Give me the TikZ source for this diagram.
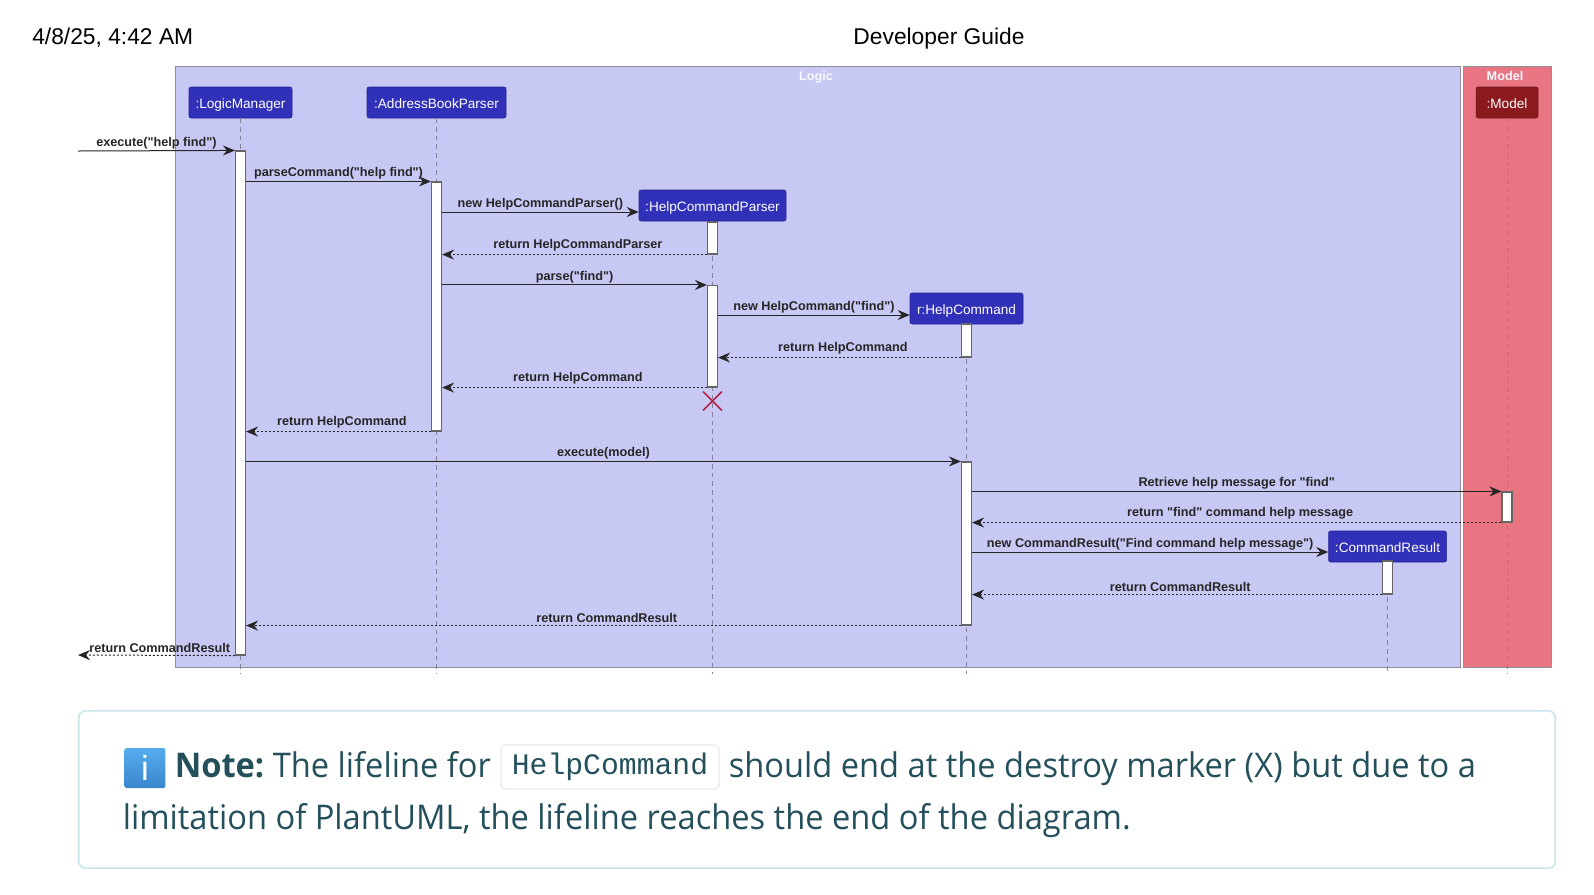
\documentclass[tikz,border=0pt]{standalone}
\usepackage{fontspec}
\setmainfont{Liberation Sans}
\newfontfamily\notefont[FakeStretch=0.96]{Open Sans}
\newfontfamily\codefont{Liberation Mono}
\usetikzlibrary{arrows.meta,positioning,shapes.misc}
\definecolor{logicfill}{HTML}{C8C8F5}
\definecolor{modelfill}{HTML}{E97583}
\definecolor{framedraw}{HTML}{8E8E9E}
\definecolor{partfill}{HTML}{3030B8}
\definecolor{modelpart}{HTML}{8B1A1E}
\definecolor{lifegray}{HTML}{83839A}
\definecolor{notetext}{HTML}{24505C}
\definecolor{noteline}{HTML}{C9E6EC}
\definecolor{destroyred}{HTML}{B3224A}
\definecolor{icontop}{HTML}{56ADEE}
\definecolor{iconbot}{HTML}{3A85CC}
\newcommand{\qq}{\textquotedbl}

\begin{document}
\begin{tikzpicture}[x=0.75pt,y=-0.75pt]
            \tikzstyle{every node}=[inner sep=0pt]
            \tikzstyle{frame}=[draw=framedraw,line width=0.75pt,inner sep=0pt,minimum height=450.75pt]
            \tikzstyle{frametitle}=[anchor=base,text=white!85!logicfill,font=\fontsize{9.5}{11}\selectfont\bfseries]
            \tikzstyle{part}=[draw=partfill!80!black,fill=partfill,text=white,rounded corners=1.5pt,minimum height=23.25pt,text height=10pt,text depth=1.7pt,font=\fontsize{10.2}{12}\selectfont]
            \tikzstyle{modelbox}=[part,draw=modelpart!80!black,fill=modelpart]
            \tikzstyle{life}=[lifegray,line width=0.75pt,dash pattern=on 3.5pt off 3pt]
            \tikzstyle{actbar}=[draw=black!60,fill=white,line width=0.85pt,minimum width=7.5pt]
            \tikzstyle{msg}=[black!85,line width=0.75pt,-{Stealth[length=9pt,width=7.5pt,inset=3pt]}]
            \tikzstyle{ret}=[msg,dash pattern=on 1.5pt off 1.5pt]
            \tikzstyle{lbl}=[above=1.1pt,text=black!85,font=\fontsize{9.5}{11}\selectfont\bfseries]
            \tikzstyle{retlbl}=[lbl,above=2pt,xshift=2.5pt]
            \tikzstyle{notetxt}=[text=notetext,font=\fontsize{25.5}{30}\notefont\selectfont]

            \node[anchor=base west,font=\fontsize{17.1}{20}\selectfont] (date) at (32,44) {4/8/25, 4:42 AM};
            \node[anchor=base,font=\fontsize{17.1}{20}\selectfont] (title) at (939,44) {Developer Guide};

            \node[frame,fill=logicfill,minimum width=963.4pt] (logic) at (817.8,366.5) {};
            \node[frame,fill=modelfill,minimum width=66pt] (model) at (1507.3,366.5) {};
            \node[frametitle] (logictitle) at (816,80.5) {Logic};
            \node[frametitle] (modeltitle) at (1505,80.5) {Model};

            \node[part,minimum width=77.25pt] (LM) at (240.5,102.5) {:LogicManager};
            \node[part,minimum width=104.25pt] (ABP) at (436.5,102.5) {:AddressBookParser};
            \node[part,minimum width=110.25pt] (HCP) at (712.5,205.5) {:HelpCommandParser};
            \node[part,minimum width=84.75pt] (HC) at (966.5,308.5) {r:HelpCommand};
            \node[part,minimum width=88.5pt] (CR) at (1387.5,546.5) {:CommandResult};
            \node[modelbox,minimum width=46.5pt] (MOD) at (1507,102.5) {:Model};

            \coordinate (lifeend) at (0,674);
            \draw[life] (LM.south) -- (LM.south |- lifeend);
            \draw[life] (ABP.south) -- (ABP.south |- lifeend);
            \draw[life] (HCP.south) -- (HCP.south |- lifeend);
            \draw[life] (HC.south) -- (HC.south |- lifeend);
            \draw[life] (CR.south) -- (CR.south |- lifeend);
            \draw[life] (MOD.south) -- (MOD.south |- lifeend);

            \node[actbar,minimum height=378pt] (barLM) at (240.5,403) {};
            \node[actbar,minimum height=186.75pt] (barABP) at (436.5,306.5) {};
            \node[actbar,minimum height=24pt] (barHCPa) at (712.5,238) {};
            \node[actbar,minimum height=76.1pt] (barHCPb) at (712.5,336.25) {};
            \node[actbar,minimum height=24.75pt] (barHCa) at (966.5,340.5) {};
            \node[actbar,minimum height=122.25pt] (barHCb) at (966.5,543.5) {};
            \node[actbar,minimum height=22.5pt] (barMOD) at (1507,507) {};
            \node[actbar,minimum height=24.75pt] (barCR) at (1387.5,577.5) {};

            \foreach \n/\y in {b/212,d/315,f/552}
                \coordinate (m\n) at (0,\y);
            \coordinate (outside) at (78,151);
            \coordinate (outsideb) at (78,655);

            \draw[msg] (outside) -- node[lbl] {execute(\qq help find\qq)} (barLM.north west);
            \draw[msg] (barLM.east |- barABP.north) -- node[lbl] {parseCommand(\qq help find\qq)} (barABP.north west);
            \draw[msg] (barABP.east |- mb) -- node[lbl] {new HelpCommandParser()} (HCP.west |- mb);
            \draw[ret] (barHCPa.south west) -- node[retlbl] {return HelpCommandParser} (barABP.east |- barHCPa.south);
            \draw[msg] (barABP.east |- barHCPb.north) -- node[lbl] {parse(\qq find\qq)} (barHCPb.north west);
            \draw[msg] (barHCPb.east |- md) -- node[lbl] {new HelpCommand(\qq find\qq)} (HC.west |- md);
            \draw[ret] (barHCa.south west) -- node[retlbl] {return HelpCommand} (barHCPb.east |- barHCa.south);
            \draw[ret] (barHCPb.south west) -- node[retlbl] {return HelpCommand} (barABP.east |- barHCPb.south);
            \draw[ret] (barABP.south west) -- node[retlbl] {return HelpCommand} (barLM.east |- barABP.south);
            \draw[msg] (barLM.east |- barHCb.north) -- node[lbl] {execute(model)} (barHCb.north west);
            \draw[msg] (barHCb.east |- barMOD.north) -- node[lbl] {Retrieve help message for \qq find\qq} (barMOD.north west);
            \draw[ret] (barMOD.south west) -- node[retlbl] {return \qq find\qq{} command help message} (barHCb.east |- barMOD.south);
            \draw[msg] (barHCb.east |- mf) -- node[lbl] {new CommandResult(\qq Find command help message\qq)} (CR.west |- mf);
            \draw[ret] (barCR.south west) -- node[retlbl] {return CommandResult} (barHCb.east |- barCR.south);
            \draw[ret] (barHCb.south west) -- node[retlbl] {return CommandResult} (barLM.east |- barHCb.south);
            \draw[ret] (barLM.south west) -- node[retlbl] {return CommandResult} (outsideb);

            \node[cross out,draw=destroyred,line width=1.1pt,minimum size=13pt] (destroy) at (712.5,401) {};

            \node[draw=noteline,line width=1.2pt,fill=white,rounded corners=5pt,minimum width=1107.4pt,minimum height=118pt] (note) at (817,789.5) {};
            \node[rounded corners=1.5pt,top color=icontop,bottom color=iconbot,minimum width=30.5pt,minimum height=30pt,text=white,font=\fontsize{26}{28}\selectfont] (icon) at (145,768) {i};
            \node[notetxt,anchor=base west,font=\fontsize{25.5}{30}\notefont\selectfont\bfseries] (notelead) at (174.5,777.5) {Note:};
            \node[notetxt,base right=6pt of notelead] (notea) {The lifeline for};
            \node[draw=black!8,line width=1pt,rounded corners=3pt,fill=white,text=notetext,minimum width=163.5pt,minimum height=33pt,font=\fontsize{22.3}{26}\codefont\selectfont] (code) at (610,767) {HelpCommand};
            \node[notetxt,anchor=base west] (noteb) at (728.5,777.5) {should end at the destroy marker (X) but due to a};
            \node[notetxt,anchor=base west] (notec) at (122.5,829) {limitation of PlantUML, the lifeline reaches the end of the diagram.};

            \path[use as bounding box] (0,0) rectangle (1594,894);
\end{tikzpicture}
\end{document}
